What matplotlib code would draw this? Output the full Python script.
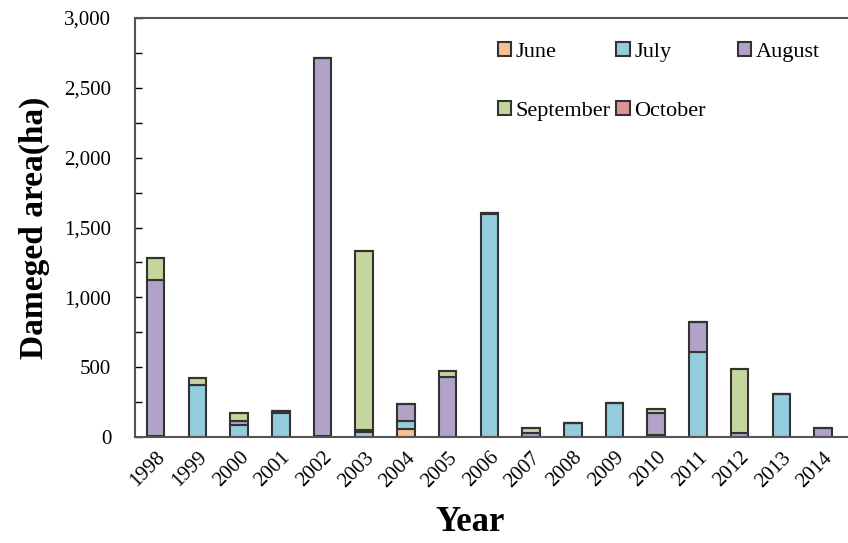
import numpy as np
import matplotlib
matplotlib.use('Agg')
from matplotlib import pyplot as plt
from matplotlib.legend import Legend
from matplotlib.ticker import MultipleLocator, FuncFormatter

years = ['1998', '1999', '2000', '2001', '2002', '2003', '2004', '2005', '2006',
         '2007', '2008', '2009', '2010', '2011', '2012', '2013', '2014']
months = ['June', 'July', 'August', 'September', 'October']

june = [0, 0, 0, 0, 0, 0, 55, 0, 0, 0, 0, 0, 0, 0, 0, 0, 0]
july = [10, 375, 85, 175, 10, 40, 60, 0, 1600, 0, 98, 243, 16, 606, 0, 310, 0]
august = [1112, 0, 30, 10, 2700, 10, 120, 430, 5, 30, 0, 0, 158, 215, 26, 0, 67]
september = [163, 50, 60, 0, 0, 1285, 0, 40, 0, 37, 0, 0, 30, 0, 460, 0, 0]
october = [0] * 17

colors = ['#FAC090', '#93CDDD', '#B3A2C7', '#C3D69B', '#D99694']

plt.rcParams['font.family'] = ['Liberation Serif', 'DejaVu Serif']

fig = plt.figure(figsize=(8.48, 5.43), dpi=100)
ax = fig.add_axes([0.159, 0.195, 0.841, 0.772])

x = np.arange(len(years))
bottom = np.zeros(len(years))
bars = []
for name, vals, col in zip(months, [june, july, august, september, october], colors):
    vals = np.array(vals, dtype=float)
    b = ax.bar(x, vals, width=0.42, bottom=bottom, color=col, edgecolor='#333333',
               linewidth=1.5, label=name)
    bars.append(b)
    bottom += vals

ax.set_xlim(-0.5, 16.6)
ax.set_ylim(0, 3000)
ax.yaxis.set_major_locator(MultipleLocator(500))
ax.yaxis.set_minor_locator(MultipleLocator(250))
ax.yaxis.set_major_formatter(FuncFormatter(lambda v, p: f'{int(v):,}'))
ax.tick_params(axis='y', which='both', direction='in', length=5, width=1,
               labelsize=15, pad=17)
ax.set_xticks(x)
ax.set_xticklabels(years, rotation=45, ha='right', rotation_mode='anchor')
ax.tick_params(axis='x', length=0, labelsize=15, pad=8)

for s in ['top', 'bottom', 'left']:
    ax.spines[s].set_color('#555555')
    ax.spines[s].set_linewidth(1.5)
ax.spines['right'].set_visible(False)

ax.set_ylabel('Dameged area(ha)', fontsize=24, fontweight='bold', labelpad=10)
ax.set_xlabel('Year', fontsize=25, fontweight='bold')
ax.xaxis.set_label_coords(0.47, -0.165)

# legend: Excel-style equal-width columns, one legend per column
cols = [[0, 3], [1, 4], [2]]
col_x = [0.5, 0.666, 0.836]
for k, idx in enumerate(cols):
    leg = Legend(ax, [bars[i] for i in idx], [months[i] for i in idx],
                 frameon=False, loc='upper left', bbox_to_anchor=(col_x[k], 0.958),
                 borderaxespad=0, borderpad=0.3,
                 fontsize=16, handlelength=0.6, handleheight=0.6, handletextpad=0.2,
                 labelspacing=1.75)
    ax.add_artist(leg)

fig.savefig('out.png', dpi=100)
